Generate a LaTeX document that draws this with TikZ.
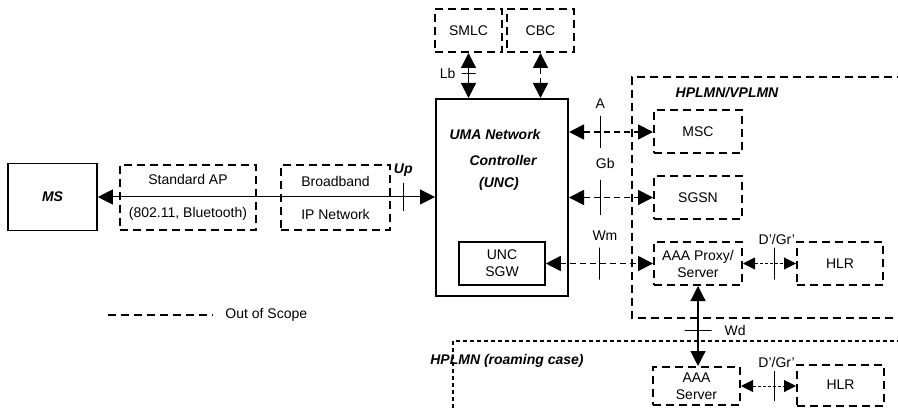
\documentclass[tikz,border=0pt]{standalone}
\usepackage{fontspec}
\setmainfont{Liberation Sans}
\usetikzlibrary{arrows.meta,positioning}

\begin{document}
\begin{tikzpicture}[x=0.5pt,y=-0.5pt,
  every node/.style={font=\fontsize{7}{8.5}\selectfont,inner sep=0pt},
  lbl/.style={font=\fontsize{7}{8.5}\selectfont\bfseries\itshape},
  oos/.style={draw,line width=1pt,dash pattern=on 4pt off 2.5pt},
  roam/.style={draw,line width=0.6pt,dash pattern=on 2pt off 1.5pt},
  box/.style={oos,minimum width=44pt,minimum height=21.5pt,align=center},
  solidbox/.style={draw,line width=0.8pt,align=center},
  a/.style={{Triangle[length=7.5pt,width=7.5pt]}-{Triangle[length=7.5pt,width=7.5pt]},line width=0.6pt},
  da/.style={a,line width=0.9pt,dash pattern=on 3pt off 2pt},
  sa/.style={{Triangle[length=6pt,width=6pt]}-{Triangle[length=6pt,width=6pt]},line width=0.5pt,dash pattern=on 1.5pt off 1pt},
  vtick/.style={draw,solid,line width=0.5pt,minimum width=0pt,minimum height=16pt},
  htick/.style={draw,solid,line width=0.5pt,minimum height=0pt,minimum width=7pt}]
 \useasboundingbox (0,0) rectangle (898,411);
 % regions
 \draw[oos] (905,77) -| (632,318) -- (905,318);
 \draw[roam] (453,415) |- (905,341);
 \node[lbl] (vplmn) at (727,93) {HPLMN/VPLMN};
 \node[lbl] (hplmn) at (507,361) {HPLMN (roaming case)};
 % nodes
 \node[solidbox,lbl,minimum width=44.5pt,minimum height=33.5pt] (ms) at (52.5,197) {MS};
 \node[box,minimum width=68pt,minimum height=32.5pt] (ap) at (188,197.5) {Standard AP\\[8pt](802.11, Bluetooth)};
 \node[box,minimum width=54.5pt,minimum height=32.5pt] (bb) at (335.5,197.5) {Broadband\\[8pt]IP Network};
 \node[solidbox,line width=1pt,minimum width=66pt,minimum height=98.5pt] (unc) at (502,197.5) {};
 \node[lbl] (uma) at (495,134) {UMA Network};
 \node[lbl] (ctrl) at (503,160) {Controller};
 \node[lbl] (uncl) at (499,184) {(UNC)};
 \node[solidbox,minimum width=43pt,minimum height=21.5pt] (sgw) at (502,263.5) {UNC\\SGW};
 \node[box,minimum width=33.5pt] (smlc) at (468.5,30.5) {SMLC};
 \node[box,minimum width=33.5pt] (cbc) at (540.5,30.5) {CBC};
 \node[box] (msc) at (698,132) {MSC};
 \node[box] (sgsn) at (698,197.5) {SGSN};
 \node[box] (aaap) at (698,263.5) {AAA Proxy/\\Server};
 \node[box,minimum width=43pt] (hlr) at (840,263.5) {HLR};
 \node[box,minimum width=43.5pt,minimum height=19pt] (aaas) at (696.5,386) {AAA\\Server};
 \node[box,minimum width=43.5pt,minimum height=20.5pt] (hlrh) at (840.5,385) {HLR};
 % interfaces
 \draw[a,line width=0.5pt] (ms.east) -- node[vtick,pos=0.906,minimum height=14pt,label={[lbl,label distance=3pt]above:Up}] {} (ms.east -| unc.west);
 \draw[a] (smlc.south) -- node[htick,pos=0.45,label={[label distance=2.5pt]left:Lb}] {} (smlc.south |- unc.north);
 \draw[da] (cbc.south) -- (cbc.south |- unc.north);
 \draw[da] (msc.west -| unc.east) -- node[vtick,pos=0.372,label={[label distance=3pt]above:A}] {} (msc.west);
 \draw[da] (sgsn.west -| unc.east) -- node[vtick,pos=0.372,minimum height=17.5pt,label={[label distance=5pt,xshift=2.5pt]above:Gb}] {} (sgsn.west);
 \draw[da] (sgw.east) -- node[vtick,pos=0.505,label={[label distance=3pt,xshift=2.5pt]above:Wm}] {} (aaap.west);
 \draw[sa] (aaap.east) -- node[vtick,pos=0.6,label={[label distance=1pt,xshift=1pt]above:D’/Gr’}] {} (hlr.west);
 \draw[a] (aaap.south) -- node[htick,pos=0.56,minimum width=13.5pt,label={[label distance=6pt]right:Wd}] {} (aaap.south |- aaas.north);
 \draw[sa] (aaas.east) -- node[vtick,pos=0.61,minimum height=15pt,label={[label distance=1pt,xshift=1pt]above:D’/Gr’}] {} (aaas.east -| hlrh.west);
 % legend
 \coordinate (leg) at (108,315);
 \node[anchor=west] (scope) at (225,315) {Out of Scope};
 \draw[oos] (leg) -- ([xshift=-6pt]scope.west);
\end{tikzpicture}
\end{document}
